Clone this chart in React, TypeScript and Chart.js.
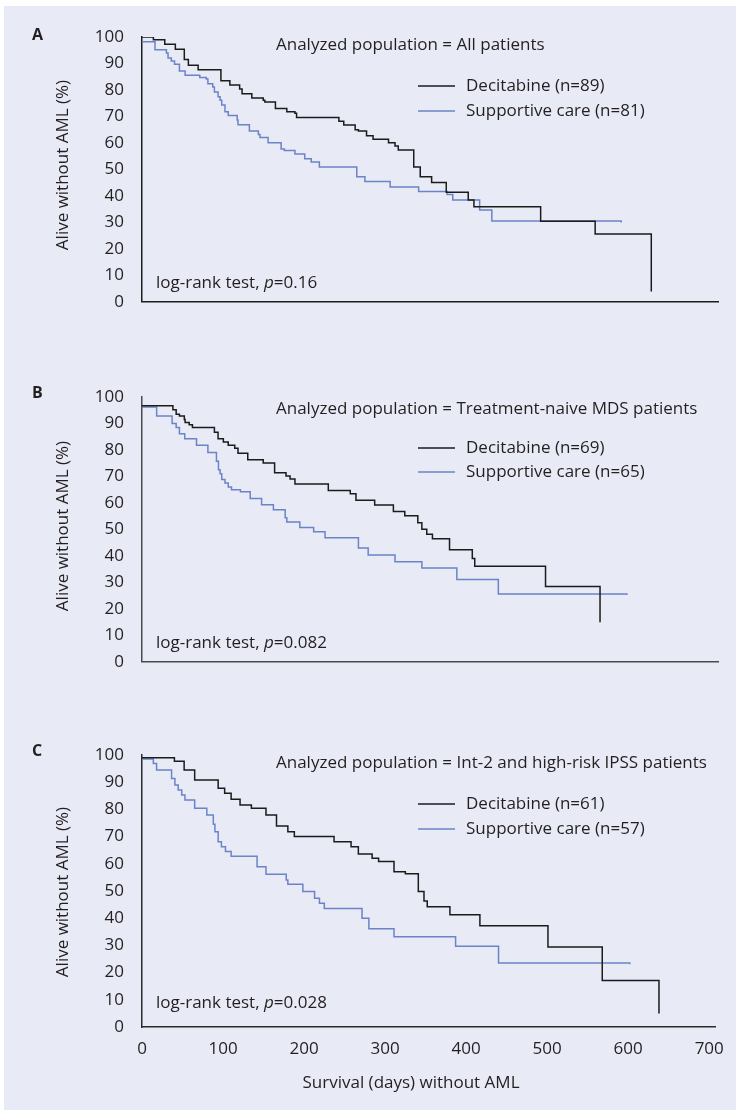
import { useEffect, useRef } from 'react';
import { Chart, registerables } from 'chart.js';

Chart.register(...registerables);

// ---------- data ----------
const xTicks = [0, 100, 200, 300, 400, 500, 600, 700];
const yTicks = [0, 10, 20, 30, 40, 50, 60, 70, 80, 90, 100];
const X_MAX = 708;

// [day, % alive without AML]
const decitabineA: [number, number][] = [
  [0, 100], [14, 99], [28, 97.3], [41, 95.4], [52, 91.5], [57, 89.3], [69, 87.6], [97, 83.5],
  [108, 81.9], [120, 80.4], [123, 78.6], [135, 77], [149, 76.1], [151, 75.5], [164, 73],
  [178, 71.8], [188, 71.2], [190, 69.6], [242, 68.2], [248, 66.8], [262, 65], [266, 64.5],
  [276, 62.7], [284, 61.4], [303, 60.1], [311, 58.8], [315, 57.3], [334, 50.9], [342, 47.2],
  [356, 45.1], [374, 41.4], [401, 38.4], [408, 35.9], [490, 30.4], [557, 25.6], [626, 3.9],
];
const supportiveA: [number, number][] = [
  [0, 98.2], [16, 95.2], [30, 94], [32, 92.1], [36, 90.9], [40, 89.7], [46, 87.2], [53, 85.6],
  [71, 84.7], [79, 84.1], [81, 82.3], [87, 81.1], [89, 79.2], [93.5, 77.4], [96, 76.1],
  [98, 74.3], [102, 71.8], [106, 70.4], [117, 68.7], [118, 66.9], [132, 64.5], [143, 63.2],
  [145, 62], [155, 60.1], [171, 57.7], [175, 57.1], [188, 55.8], [200, 54], [208, 52.8],
  [218, 50.9], [264, 47.2], [274, 45.4], [305, 43.4], [340, 41.7], [375, 40.5], [382, 38.4],
  [415, 34.7], [430, 30.5], [589, 29.9],
];

const decitabineB: [number, number][] = [
  [0, 96.7], [38, 95.2], [42, 93.5], [46, 92.8], [52, 91.5], [53, 90.4], [58, 89.5], [62, 88.5],
  [89, 86.7], [93.5, 84.2], [100, 83], [106, 81.8], [114, 80.6], [118, 78.8], [130, 76.3],
  [149, 75.1], [163, 71.4], [177, 70.2], [182, 69], [188, 67.1], [229, 64.7], [256, 63.5],
  [263, 61], [286, 59.2], [309, 56.8], [323, 55.2], [339, 52.5], [344, 50.1], [350, 48.2],
  [357, 46.5], [378, 42.3], [406, 39], [409, 36.1], [496, 28.4], [563, 14.9],
];
const supportiveB: [number, number][] = [
  [0, 96.2], [18, 92.8], [37, 90], [42, 88.5], [46, 86.1], [52.5, 84.2], [67, 81.8], [81, 79],
  [91.5, 75.7], [94, 72.5], [96, 71], [98, 68.8], [102, 67.5], [106, 66], [110, 65],
  [121, 64.2], [133, 61.7], [147, 59.3], [161.5, 57.4], [176, 54.4], [178, 52.8], [194, 50.7],
  [211, 49.1], [225, 46.8], [266, 43], [278, 40.3], [311, 37.8], [344, 35.4], [387, 31.1],
  [438, 25.6], [596, 25.2],
];

const decitabineC: [number, number][] = [
  [0, 99], [40, 97.7], [52, 94.5], [65, 90.8], [94, 87.8], [102, 85.9], [110, 83.7],
  [121, 81.6], [135, 80.4], [153, 77.9], [166, 73.9], [180, 71.8], [188, 70], [237, 68.1],
  [258, 66.3], [267, 63.6], [284, 62], [292, 60.8], [311, 57.1], [325, 56.3], [341, 49.8],
  [348, 46.3], [352, 44.2], [380, 41.3], [417, 37.2], [501, 29.4], [568, 17.1], [638, 5],
];
const supportiveC: [number, number][] = [
  [0, 98.5], [14, 96.9], [18, 94.5], [36.5, 91.4], [40.6, 89], [44.7, 87.1], [49, 85.3],
  [53, 83.5], [65, 80.4], [80, 77.9], [88, 74.5], [90, 71.8], [94, 68.1], [98, 66.3],
  [103, 64.5], [110, 62.8], [142, 58.9], [153, 56.2], [178, 54], [180, 52.5], [198.5, 49.8],
  [213, 47.3], [219, 45.5], [225, 43.6], [271.5, 40], [280, 36.1], [311, 33.2], [387, 29.7],
  [440, 23.5], [602, 23.1],
];

const panelLetters = ['A', 'B', 'C'];
const panelTitles = [
  'Analyzed population = All patients',
  'Analyzed population = Treatment-naive MDS patients',
  'Analyzed population = Int-2 and high-risk IPSS patients',
];
const decitabineLabels = ['Decitabine (n=89)', 'Decitabine (n=69)', 'Decitabine (n=61)'];
const supportiveLabels = ['Supportive care (n=81)', 'Supportive care (n=65)', 'Supportive care (n=57)'];
const pValues = ['0.16', '0.082', '0.028'];
const yTitle = 'Alive without AML (%)';
const xTitle = 'Survival (days) without AML';

// ---------- styling / layout ----------
const FONT = '"Open Sans", "Noto Sans", sans-serif';
const FS = 17;
const TEXT = '#231f20';
const BLACK = '#1b1b1b';
const BLUE = '#6b84c8';
const BG = '#e8eaf6';

interface PanelLayout {
  top: number; height: number; plotTop: number; plotBottom: number;
  letterY: number; titleY: number; legY1: number; legY2: number; logY: number;
  yTitleY: number; xTitleY?: number; axisColor: string; showX: boolean;
}

const layouts: PanelLayout[] = [
  { top: 0, height: 330, plotTop: 37, plotBottom: 308, letterY: 35, titleY: 45, legY1: 86, legY2: 111,
    logY: 283, yTitleY: 165, axisColor: '#1e1e1e', showX: false },
  { top: 330, height: 360, plotTop: 397, plotBottom: 670, letterY: 393, titleY: 409, legY1: 448, legY2: 472,
    logY: 643, yTitleY: 526, axisColor: '#4a4a4a', showX: false },
  { top: 690, height: 420, plotTop: 755, plotBottom: 1027, letterY: 751, titleY: 763, legY1: 804, legY2: 829,
    logY: 1003, yTitleY: 892, xTitleY: 1083, axisColor: '#2a2a2a', showX: true },
];

const series = [
  [decitabineA, supportiveA],
  [decitabineB, supportiveB],
  [decitabineC, supportiveC],
];

function makeChart(canvas: HTMLCanvasElement, i: number) {
  const L = layouts[i];
  const [dec, sup] = series[i];
  const xHeight = L.showX ? 60 : 0;
  const localPlotTop = L.plotTop - L.top;
  const localPlotBottom = L.plotBottom - L.top;
  const textPlugin = {
    id: 'panelText' + i,
    afterDraw(chart: any) {
      const ctx: CanvasRenderingContext2D = chart.ctx;
      const o = L.top;
      ctx.save();
      ctx.fillStyle = TEXT;
      ctx.textBaseline = 'middle';
      ctx.textAlign = 'left';
      ctx.font = `bold 16px ${FONT}`;
      ctx.fillText(panelLetters[i], 32, L.letterY - o);
      ctx.font = `${FS}px ${FONT}`;
      ctx.fillText(panelTitles[i], 276, L.titleY - o);
      // legend
      ctx.lineWidth = 1.5;
      ctx.strokeStyle = BLACK;
      ctx.beginPath(); ctx.moveTo(418, L.legY1 - o); ctx.lineTo(455, L.legY1 - o); ctx.stroke();
      ctx.strokeStyle = BLUE;
      ctx.beginPath(); ctx.moveTo(418, L.legY2 - o); ctx.lineTo(455, L.legY2 - o); ctx.stroke();
      ctx.fillText(decitabineLabels[i], 466, L.legY1 - o);
      ctx.fillText(supportiveLabels[i], 466, L.legY2 - o);
      // log-rank
      let x = 156;
      const s1 = 'log-rank test, ';
      ctx.fillText(s1, x, L.logY - o);
      x += ctx.measureText(s1).width;
      ctx.font = `italic ${FS}px ${FONT}`;
      ctx.fillText('p', x, L.logY - o);
      x += ctx.measureText('p').width;
      ctx.font = `${FS}px ${FONT}`;
      ctx.fillText('=' + pValues[i], x, L.logY - o);
      // y title
      ctx.save();
      ctx.translate(63, L.yTitleY - o);
      ctx.rotate(-Math.PI / 2);
      ctx.textAlign = 'center';
      ctx.fillText(yTitle, 0, 0);
      ctx.restore();
      if (L.showX && L.xTitleY) {
        ctx.textAlign = 'center';
        ctx.fillText(xTitle, 411, L.xTitleY - o);
      }
      ctx.restore();
    },
  };

  const ds = (label: string, pts: [number, number][], color: string) => ({
    label,
    data: pts.map(([x, y]) => ({ x, y })),
    showLine: true,
    stepped: 'before' as const,
    borderColor: color,
    backgroundColor: color,
    borderWidth: 1.5,
    pointRadius: 0,
    pointHoverRadius: 0,
    fill: false,
  });

  return new Chart(canvas, {
    type: 'scatter',
    data: {
      datasets: [
        ds(decitabineLabels[i], dec, BLACK),
        ds(supportiveLabels[i], sup, BLUE),
      ],
    },
    options: {
      responsive: false,
      animation: false,
      events: [],
      layout: {
        padding: { top: localPlotTop, left: 0, right: 18, bottom: L.height - localPlotBottom - xHeight },
      },
      plugins: { legend: { display: false }, tooltip: { enabled: false }, title: { display: false } },
      scales: {
        x: {
          type: 'linear',
          min: 0,
          max: X_MAX,
          afterBuildTicks: (s: any) => { s.ticks = xTicks.map((v) => ({ value: v })); },
          afterFit: (s: any) => { s.height = xHeight; },
          grid: { display: false, drawTicks: false },
          border: { display: true, color: L.axisColor, width: 1.5 },
          ticks: {
            display: L.showX, padding: 12, color: TEXT, maxRotation: 0, autoSkip: false,
            font: { family: FONT, size: FS },
          },
        },
        y: {
          type: 'linear',
          min: 0,
          max: 100,
          afterBuildTicks: (s: any) => { s.ticks = yTicks.map((v) => ({ value: v })); },
          afterFit: (s: any) => { s.width = 142; },
          grid: { display: false, drawTicks: false },
          border: { display: true, color: L.axisColor, width: 1.5 },
          ticks: { padding: 18, color: TEXT, font: { family: FONT, size: FS } },
        },
      },
    } as any,
    plugins: [textPlugin],
  });
}

function Panel({ index }: { index: number }) {
  const ref = useRef<HTMLCanvasElement | null>(null);
  const L = layouts[index];
  useEffect(() => {
    if (!ref.current) return;
    const chart = makeChart(ref.current, index);
    return () => chart.destroy();
  }, [index]);
  return (
    <canvas
      ref={ref}
      width={736}
      height={L.height}
      style={{ position: 'absolute', left: 0, top: L.top, width: 736, height: L.height }}
    />
  );
}

export default function App() {
  return (
    <div style={{ position: 'absolute', left: 0, top: 0, width: 736, height: 1110, background: '#ffffff', overflow: 'hidden' }}>
      <div style={{ position: 'absolute', left: 4, top: 6, width: 732, height: 1104, background: BG }} />
      <Panel index={0} />
      <Panel index={1} />
      <Panel index={2} />
    </div>
  );
}
